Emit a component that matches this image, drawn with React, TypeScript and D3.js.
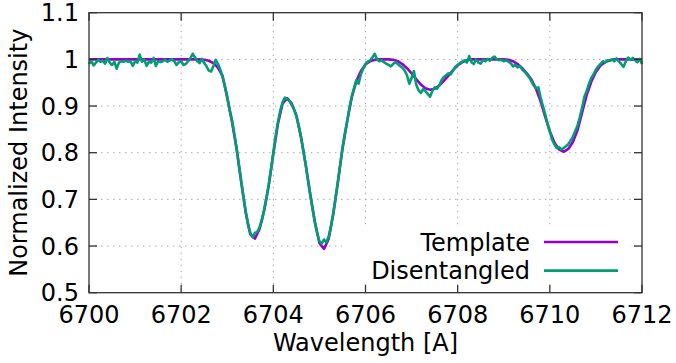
import React from 'react';
import * as d3 from 'd3';

// Wavelength sampling of the two spectra (Angstrom)
const WL_START = 6700;
const TEMPLATE_STEP = 0.1;
const DISENT_STEP = 0.05;

// Synthetic template spectrum, 6700.0 – 6712.0 in 0.1 A steps
const templateFlux = [
  1, 1, 1, 1, 1, 1, 1, 1, 1, 1,
  1, 1, 1, 1, 1, 1, 1, 1, 1, 1,
  1, 1, 1, 1, 1,
  0.999, 0.997, 0.992, 0.982, 0.964,
  0.918, 0.868, 0.810, 0.740, 0.672, 0.625, 0.616, 0.636, 0.676, 0.730,
  0.798, 0.862, 0.905, 0.917, 0.905, 0.880, 0.834, 0.776, 0.712, 0.652,
  0.606, 0.594, 0.615, 0.668, 0.736, 0.808, 0.866, 0.918, 0.953, 0.975,
  0.989, 0.996, 0.999, 1, 1, 1, 0.999, 0.996, 0.990, 0.981,
  0.970, 0.958, 0.946, 0.938, 0.935, 0.937, 0.944, 0.954, 0.965, 0.977,
  0.987, 0.994, 0.998, 1, 1, 1, 1, 1, 1, 1,
  1, 0.999, 0.996, 0.990, 0.981, 0.970, 0.957, 0.937, 0.910, 0.877,
  0.846, 0.822, 0.807, 0.802, 0.808, 0.823, 0.848, 0.886, 0.924, 0.952,
  0.973, 0.987, 0.994, 0.998, 1, 1, 1, 1, 1, 1,
  1,
];

// Disentangled component spectrum, 6700.00 – 6712.00 in 0.05 A steps
const disentangledFlux = [
  0.990, 0.996, 0.987, 0.993, 0.999, 0.995, 0.997, 0.991, 1.003, 0.993,
  0.988, 0.995, 0.980, 0.993, 0.996, 0.995, 0.997, 0.995, 0.996, 0.986,
  0.996, 0.993, 1.010, 0.995, 0.999, 0.986, 0.995, 0.993, 1.003, 0.986,
  0.996, 0.994, 0.996, 0.999, 0.995, 0.998, 1.000, 0.996, 0.988, 0.994,
  0.996, 0.988, 0.990, 0.996, 1.002, 1.012, 1.004, 0.996, 0.992, 1.001,
  0.992, 0.985, 0.976, 0.974, 0.986, 0.999, 0.990, 0.978, 0.962, 0.942,
  0.920, 0.892, 0.872, 0.843, 0.812, 0.776, 0.741, 0.706, 0.675, 0.646,
  0.628, 0.619, 0.628, 0.630, 0.640, 0.655, 0.677, 0.702, 0.731, 0.765,
  0.800, 0.836, 0.866, 0.890, 0.908, 0.918, 0.915, 0.911, 0.902, 0.893,
  0.878, 0.858, 0.833, 0.805, 0.775, 0.742, 0.710, 0.680, 0.652, 0.628,
  0.610, 0.605, 0.614, 0.608, 0.620, 0.642, 0.670, 0.703, 0.738, 0.774,
  0.810, 0.840, 0.866, 0.895, 0.920, 0.938, 0.955, 0.948, 0.968, 0.980,
  0.990, 0.995, 0.998, 1.004, 1.012, 1.000, 0.996, 0.998, 0.994, 0.991,
  0.988, 0.985, 0.990, 0.994, 0.990, 0.986, 0.982, 0.976, 0.966, 0.948,
  0.960, 0.975, 0.946, 0.934, 0.928, 0.936, 0.932, 0.926, 0.920, 0.932,
  0.940, 0.937, 0.944, 0.955, 0.962, 0.966, 0.970, 0.968, 0.976, 0.984,
  0.988, 0.992, 0.995, 0.998, 0.993, 1.007, 0.994, 0.990, 1.000, 0.993,
  0.991, 0.999, 0.996, 1.001, 0.997, 1.003, 1.006, 1.000, 0.998, 0.999,
  0.996, 0.998, 0.995, 0.992, 0.985, 0.988, 0.983, 0.986, 0.978, 0.974,
  0.968, 0.962, 0.953, 0.944, 0.938, 0.940, 0.918, 0.900, 0.882, 0.862,
  0.845, 0.828, 0.818, 0.810, 0.812, 0.807, 0.810, 0.814, 0.818, 0.826,
  0.834, 0.846, 0.858, 0.876, 0.896, 0.920, 0.932, 0.948, 0.960, 0.968,
  0.978, 0.985, 0.990, 0.996, 0.993, 0.998, 0.997, 1.000, 0.996, 1.002,
  0.995, 0.990, 0.984, 0.996, 1.004, 0.999, 1.003, 0.998, 0.994, 1.001,
  0.990,
];

const xTicks = [6700, 6702, 6704, 6706, 6708, 6710, 6712];
const yTicks = [0.5, 0.6, 0.7, 0.8, 0.9, 1.0, 1.1];
const seriesNames = ['Template', 'Disentangled'];
const seriesColors = ['#9400d3', '#009e73'];

const W = 676;
const H = 363;
const M = { left: 89, right: 642, top: 12.7, bottom: 292.7 };
const FONT = '"DejaVu Sans", Verdana, sans-serif';
const FS = 24;

export default function App() {
  const x = d3.scaleLinear().domain([6700, 6712]).range([M.left, M.right]);
  const y = d3.scaleLinear().domain([0.5, 1.1]).range([M.bottom, M.top]);

  const toPoints = (vals: number[], step: number) =>
    vals.map((v, i) => [WL_START + i * step, v] as [number, number]);

  const line = d3
    .line<[number, number]>()
    .x((d) => x(d[0]))
    .y((d) => y(d[1]));

  const series = [
    toPoints(templateFlux, TEMPLATE_STEP),
    toPoints(disentangledFlux, DISENT_STEP),
  ];

  const legendBox = { x0: 342, x1: 630, y0: 228, y1: M.bottom };
  const gridColor = '#a8a8a8';
  const tickLen = 8;
  const fmtY = (v: number) => String(+v.toFixed(1));

  return (
    <svg
      width={W}
      height={H}
      style={{ position: 'absolute', left: 0, top: 0, background: '#fff' }}
      fontFamily={FONT}
    >
      {/* grid */}
      <g stroke={gridColor} strokeWidth={1} strokeDasharray="1.5,4.5">
        {xTicks.slice(1, -1).map((t) => (
          <line key={'gx' + t} x1={x(t)} x2={x(t)} y1={M.top} y2={M.bottom} />
        ))}
        {yTicks.slice(1, -1).map((t) => (
          <line key={'gy' + t} x1={M.left} x2={M.right} y1={y(t)} y2={y(t)} />
        ))}
      </g>

      {/* key background */}
      <rect
        x={legendBox.x0}
        y={legendBox.y0}
        width={legendBox.x1 - legendBox.x0}
        height={legendBox.y1 - legendBox.y0}
        fill="#fff"
      />

      {/* spectra */}
      {series.map((pts, i) => (
        <path
          key={seriesNames[i]}
          d={line(pts) || ''}
          fill="none"
          stroke={seriesColors[i]}
          strokeWidth={2.6}
          strokeLinejoin="round"
        />
      ))}

      {/* border */}
      <rect
        x={M.left}
        y={M.top}
        width={M.right - M.left}
        height={M.bottom - M.top}
        fill="none"
        stroke="#333"
        strokeWidth={1.3}
      />

      {/* ticks */}
      <g stroke="#333" strokeWidth={1.3}>
        {xTicks.map((t) => (
          <g key={'tx' + t}>
            <line x1={x(t)} x2={x(t)} y1={M.bottom} y2={M.bottom - tickLen} />
            <line x1={x(t)} x2={x(t)} y1={M.top} y2={M.top + tickLen} />
          </g>
        ))}
        {yTicks.map((t) => (
          <g key={'ty' + t}>
            <line x1={M.left} x2={M.left + tickLen} y1={y(t)} y2={y(t)} />
            <line x1={M.right} x2={M.right - tickLen} y1={y(t)} y2={y(t)} />
          </g>
        ))}
      </g>

      {/* tick labels */}
      <g fontSize={FS} fill="#000">
        {xTicks.map((t) => (
          <text key={'lx' + t} x={x(t)} y={323} textAnchor="middle">
            {t}
          </text>
        ))}
        {yTicks.map((t) => (
          <text key={'ly' + t} x={79} y={y(t) + 8.5} textAnchor="end">
            {fmtY(t)}
          </text>
        ))}
      </g>

      {/* axis titles */}
      <text
        x={(M.left + M.right) / 2}
        y={351}
        textAnchor="middle"
        fontSize={FS}
        fill="#000"
      >
        Wavelength [A]
      </text>
      <text
        transform={`translate(27,${(M.top + M.bottom) / 2}) rotate(-90)`}
        textAnchor="middle"
        fontSize={FS}
        fill="#000"
      >
        Normalized Intensity
      </text>

      {/* key */}
      {seriesNames.map((name, i) => {
        const cy = 242 + i * 28.6;
        return (
          <g key={'k' + name}>
            <text x={530} y={cy + 8.5} textAnchor="end" fontSize={FS} fill="#000">
              {name}
            </text>
            <line
              x1={544}
              x2={618}
              y1={cy}
              y2={cy}
              stroke={seriesColors[i]}
              strokeWidth={2.6}
            />
          </g>
        );
      })}
    </svg>
  );
}
